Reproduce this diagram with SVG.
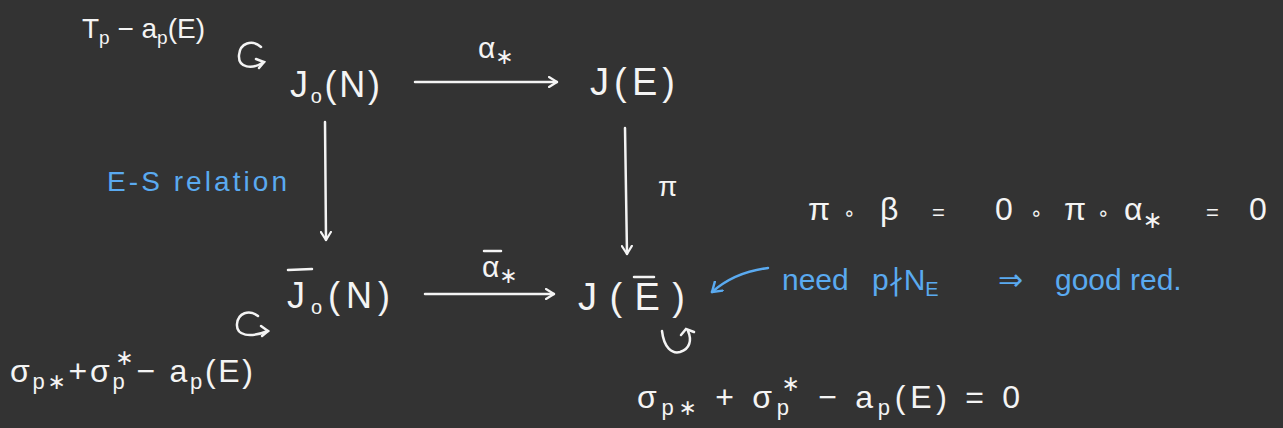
<svg xmlns="http://www.w3.org/2000/svg" width="1283" height="428" viewBox="0 0 1283 428">
<style>
.w{fill:#f4f4f4;font-family:"Liberation Sans","DejaVu Sans",sans-serif}
.b{fill:#5aaaf0;font-family:"Liberation Sans","DejaVu Sans",sans-serif}
.ln{stroke:#f4f4f4;stroke-width:2.5;fill:none;stroke-linecap:round}
.bl{stroke:#5aaaf0;stroke-width:2.5;fill:none;stroke-linecap:round}
</style>
<defs>
<marker id="ah" viewBox="0 0 10 12" refX="9" refY="6" markerWidth="10" markerHeight="12" markerUnits="userSpaceOnUse" orient="auto">
<path d="M1,1 L9,6 L1,11" fill="none" stroke="#f4f4f4" stroke-width="2.2" stroke-linecap="round" stroke-linejoin="round"/>
</marker>
<marker id="bh" viewBox="0 0 12 14" refX="10" refY="7" markerWidth="12" markerHeight="14" markerUnits="userSpaceOnUse" orient="auto">
<path d="M1,1 L10,7 L1,13" fill="none" stroke="#5aaaf0" stroke-width="2.4" stroke-linecap="round" stroke-linejoin="round"/>
</marker>
</defs>
<rect width="1283" height="428" fill="#333333"/>

<g id="connectors">
<line class="ln" x1="415" y1="82" x2="557" y2="82" marker-end="url(#ah)"/>
<line class="ln" x1="425" y1="294" x2="554" y2="294" marker-end="url(#ah)"/>
<line class="ln" x1="325" y1="122" x2="326" y2="240" marker-end="url(#ah)"/>
<line class="ln" x1="625" y1="128" x2="627" y2="254" marker-end="url(#ah)"/>
<path class="bl" d="M768,268 Q735,272 712,292" marker-end="url(#bh)"/>
<text class="w" x="478" y="58" font-size="30">α<tspan font-size="22" dy="6">∗</tspan></text>
<text class="w" x="482" y="277" font-size="30">α<tspan font-size="22" dy="6">∗</tspan></text>
<line class="ln" x1="484" y1="251" x2="501" y2="251" stroke-width="2"/>
<text class="w" x="658" y="196" font-size="28">π</text>
<text class="b" x="107" y="191" font-size="28" textLength="180" lengthAdjust="spacing">E-S relation</text>
</g>

<g id="J0N">
<text class="w" x="290" y="97" font-size="36" textLength="90" lengthAdjust="spacing">J<tspan font-size="20" dy="6">o</tspan><tspan dy="-6">(N)</tspan></text>
</g>
<g id="JE-top">
<text class="w" x="590" y="95" font-size="38" textLength="85" lengthAdjust="spacing">J(E)</text>
</g>
<g id="J0N-bar">
<text class="w" x="287" y="308" font-size="36" textLength="103" lengthAdjust="spacing">J<tspan font-size="20" dy="6">o</tspan><tspan dy="-6">(N)</tspan></text>
<line class="ln" x1="288" y1="270" x2="312" y2="269" stroke-width="2"/>
</g>
<g id="JE-bottom">
<text class="w" x="578" y="310" font-size="38" textLength="107" lengthAdjust="spacing">J ( E )</text>
<line class="ln" x1="634" y1="277" x2="654" y2="277" stroke-width="2"/>
</g>

<g id="action-top">
<text class="w" x="82" y="38" font-size="28" textLength="123" lengthAdjust="spacing">T<tspan font-size="19" dy="6">p</tspan><tspan dy="-6"> − a</tspan><tspan font-size="19" dy="6">p</tspan><tspan dy="-6">(E)</tspan></text>
<path class="ln" d="M261,47 C252,39 240,43 239,55 C238,68 252,70 264,62"/>
<path class="ln" d="M256,59 L264,62 L259,68"/>
</g>

<g id="action-left">
<path class="ln" d="M258,316 C249,309 238,313 237,324 C236,336 250,338 268,331"/>
<path class="ln" d="M261,326 L268,331 L262,336"/>
<text class="w" x="10" y="382" font-size="32" textLength="243" lengthAdjust="spacing">σ<tspan font-size="22" dy="7">p∗</tspan><tspan dy="-7">+σ</tspan><tspan font-size="22" dy="7">p</tspan><tspan font-size="22" dx="-12" dy="-24">∗</tspan><tspan dy="17">− a</tspan><tspan font-size="22" dy="7">p</tspan><tspan dy="-7">(E)</tspan></text>
</g>

<g id="action-right">
<path class="ln" d="M662,331 C664,348 672,354 680,352 C690,349 692,340 688,331"/>
<path class="ln" d="M681,335 L686,329 L694,332"/>
<text class="w" x="637" y="408" font-size="32" textLength="383" lengthAdjust="spacing">σ<tspan font-size="22" dy="7">p∗</tspan><tspan dy="-7"> + σ</tspan><tspan font-size="22" dy="7">p</tspan><tspan font-size="22" dx="-12" dy="-24">∗</tspan><tspan dy="17"> − a</tspan><tspan font-size="22" dy="7">p</tspan><tspan dy="-7">(E)  =  0</tspan></text>
</g>

<g id="equation">
<text class="w" y="220" font-size="32"><tspan x="808">π</tspan><tspan x="843" font-size="20">∘</tspan><tspan x="880">β</tspan><tspan x="932" font-size="22">=</tspan><tspan x="995">0</tspan><tspan x="1030" font-size="20">∘</tspan><tspan x="1064">π</tspan><tspan x="1097" font-size="20">∘</tspan><tspan x="1124">α</tspan><tspan font-size="24" dy="8">∗</tspan><tspan x="1206" dy="-8" font-size="22">=</tspan><tspan x="1249">0</tspan></text>
</g>

<g id="note">
<text class="b" y="290" font-size="30"><tspan x="782">need</tspan><tspan x="872">p∤N</tspan><tspan font-size="20" dy="6">E</tspan><tspan x="998" dy="-6">⇒</tspan><tspan x="1055">good</tspan><tspan x="1130">red.</tspan></text>
</g>
</svg>
